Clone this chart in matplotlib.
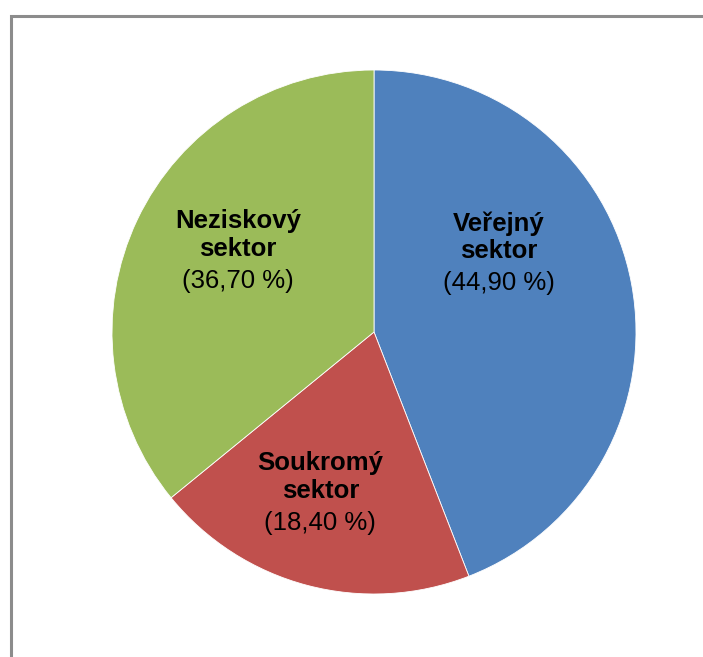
import matplotlib.pyplot as plt
from matplotlib.patches import Rectangle

# sectors, clockwise from the top
sectors = ["Veřejný\nsektor", "Soukromý\nsektor", "Neziskový\nsektor"]
# slice sizes as drawn in the picture
shares = [44.1, 20.0, 35.9]
# percentages printed in the labels
label_pct = ["44,90", "18,40", "36,70"]
colors = ["#4F81BD", "#C0504D", "#9BBB59"]

# label centres in pie units (radius = 1)
label_pos = [(0.475, 0.305), (-0.205, -0.611), (-0.52, 0.313)]

W, H = 703, 657
fig = plt.figure(figsize=(W / 100, H / 100), dpi=100)

# grey frame round the chart area, cut off at the right and bottom
fig.patches.append(Rectangle((10.5 / W, -0.1), 1.2, 1.1 - 15.5 / H,
                             transform=fig.transFigure, fill=False,
                             edgecolor="#8C8C8C", linewidth=2.2))

cx, cy, r = 374, 332, 262
ax = fig.add_axes([(cx - r) / W, (H - cy - r) / H, 2 * r / W, 2 * r / H])
ax.pie(shares, colors=colors, startangle=90, counterclock=False,
       radius=1, wedgeprops=dict(linewidth=0.6, edgecolor="white"))
ax.set_xlim(-1, 1)
ax.set_ylim(-1, 1)
ax.set_aspect("equal")
ax.axis("off")

font = ["Liberation Sans", "DejaVu Sans"]
for name, pct, (x, y) in zip(sectors, label_pct, label_pos):
    ax.text(x, y + 0.057, name, ha="center", va="center", fontsize=18.5,
            fontweight="bold", family=font, linespacing=1.18)
    ax.text(x, y - 0.118, "(" + pct + " %)", ha="center", va="center",
            fontsize=18.5, family=font)

fig.savefig("out.png", dpi=100)
